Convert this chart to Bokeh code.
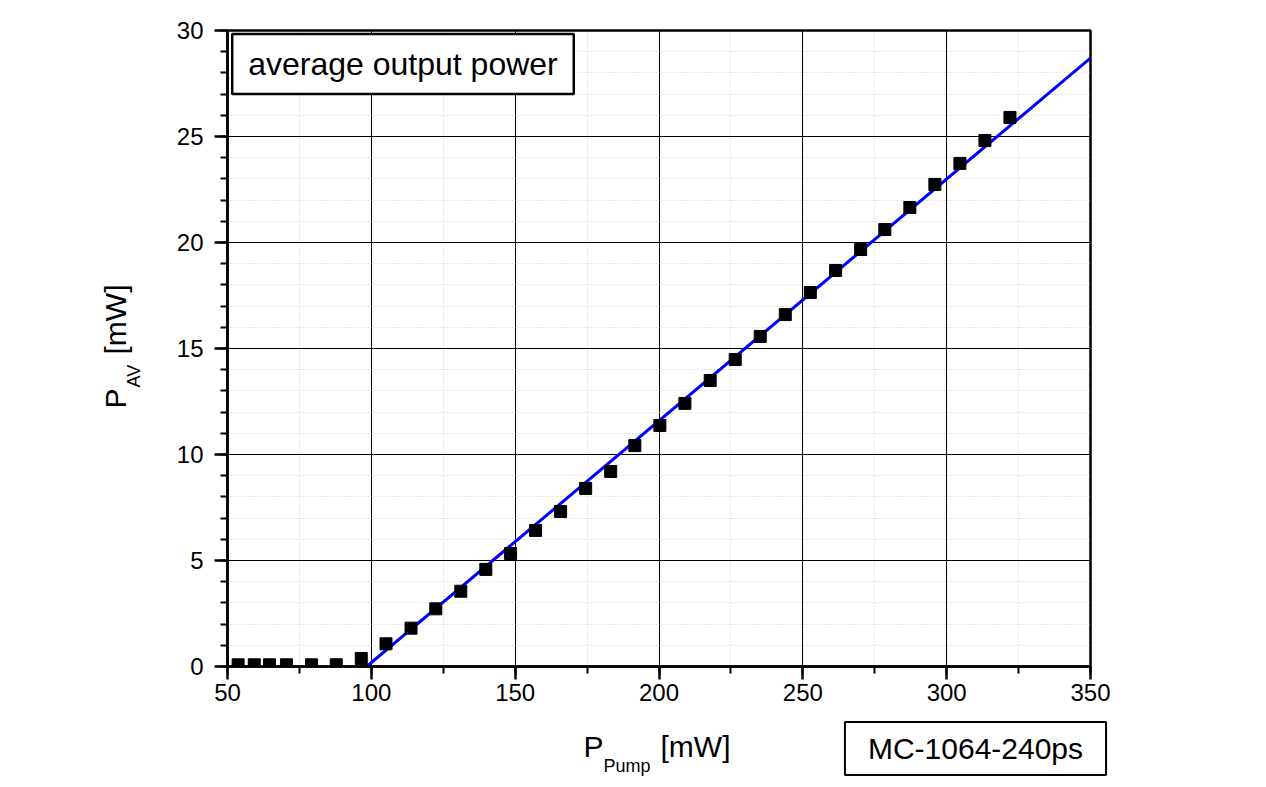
import math
from bokeh.plotting import figure
from bokeh.models import Label, SingleIntervalTicker, Range1d
from bokeh.embed import file_html
from bokeh.resources import INLINE

# ---- data ----
pump_power = [53.7, 59.3, 64.6, 70.5, 79.2, 87.8, 96.5, 105.1, 113.8, 122.4,
              131.1, 139.8, 148.4, 157.1, 165.8, 174.5, 183.2, 191.6, 200.3,
              209.0, 217.8, 226.5, 235.2, 243.9, 252.6, 261.4, 270.1, 278.5,
              287.2, 295.9, 304.6, 313.3, 322.0]
avg_power = [0.08, 0.08, 0.08, 0.08, 0.08, 0.08, 0.38, 1.07, 1.81, 2.72,
             3.55, 4.58, 5.33, 6.42, 7.31, 8.40, 9.20, 10.42, 11.37,
             12.41, 13.49, 14.48, 15.57, 16.60, 17.64, 18.68, 19.67, 20.61,
             21.65, 22.74, 23.73, 24.81, 25.90]
fit_x = [98.4, 350.0]
fit_y = [0.0, 28.7]
x_ticks_interval = 50
y_ticks_interval = 5

FONT = "Liberation Sans"

X0_PX, X1_PX, Y0_PX, Y1_PX = 227, 1090, 666, 30
def dx(px):
    return 50 + (px - X0_PX) * 300.0 / (X1_PX - X0_PX)
def dy(py):
    return (Y0_PX - py) * 30.0 / (Y0_PX - Y1_PX)

W, H = 1262, 785
p = figure(width=W, height=H, output_backend="svg", toolbar_location=None,
           x_range=Range1d(50, 350), y_range=Range1d(0, 30),
           min_border_left=X0_PX, min_border_right=W - X1_PX,
           min_border_top=Y1_PX, min_border_bottom=H - Y0_PX)
p.background_fill_color = "white"
p.border_fill_color = "white"
p.outline_line_color = "black"
p.outline_line_width = 2.5

p.xaxis.ticker = SingleIntervalTicker(interval=x_ticks_interval, num_minor_ticks=2)
p.yaxis.ticker = SingleIntervalTicker(interval=y_ticks_interval, num_minor_ticks=5)
for ax in (p.xaxis, p.yaxis):
    ax.axis_line_width = 2.5
    ax.axis_line_color = "black"
    ax.major_tick_line_width = 2.5
    ax.minor_tick_line_width = 2
    ax.major_tick_out = 13
    ax.major_tick_in = 0
    ax.minor_tick_out = 7
    ax.minor_tick_in = 0
    ax.major_label_text_font = FONT
    ax.major_label_text_font_size = "24px"
    ax.major_label_text_color = "black"
p.xaxis.major_label_standoff = 4
p.yaxis.major_label_standoff = 11

for g in (p.xgrid, p.ygrid):
    g.grid_line_color = "black"
    g.grid_line_width = 1
    g.minor_grid_line_color = "#d0d0d0"
    g.minor_grid_line_dash = "1 2"
    g.minor_grid_line_width = 1

p.line(fit_x, fit_y, line_color="#0000ff", line_width=3)
p.scatter(pump_power, avg_power, marker="square", size=12,
          fill_color="black", line_color="black")

p.add_layout(Label(x=dx(402.5), y=dy(63.5), text="average output power",
                   text_font=FONT, text_font_size="32px", text_color="black",
                   text_align="center", text_baseline="middle",
                   background_fill_color="white", border_line_color="black",
                   border_line_width=2.5,
                   padding=dict(left=16, right=16, top=12, bottom=12)))

# model box (hosted in the bottom side panel so it is not clipped)
p.add_layout(Label(x=dx(975), y=dy(748), text="MC-1064-240ps",
                   text_font=FONT, text_font_size="30px", text_color="black",
                   text_align="center", text_baseline="middle",
                   background_fill_color="white", border_line_color="black",
                   border_line_width=2,
                   padding=dict(left=23, right=23, top=10, bottom=10)), "below")

# x axis title pieces (hosted in the right side panel, positioned in data coords)
for txt, px, py, fs in [("P", 583, 746, "30px"), ("Pump", 603, 765, "18px"),
                        ("[mW]", 660, 746, "30px")]:
    p.add_layout(Label(x=dx(px), y=dy(py), text=txt, text_font=FONT,
                       text_font_size=fs, text_color="black",
                       text_align="left", text_baseline="alphabetic"), "right")

# y axis title pieces
for txt, px, py, fs in [("P", 115, 408, "30px"), ("AV", 133, 387, "18px"),
                        ("[mW]", 115, 354, "30px")]:
    p.add_layout(Label(x=dx(px), y=dy(py), text=txt, text_font=FONT,
                       text_font_size=fs, text_color="black", angle=math.pi / 2,
                       text_align="left", text_baseline="alphabetic"), "left")

open("out.html", "w").write(file_html(p, INLINE))
